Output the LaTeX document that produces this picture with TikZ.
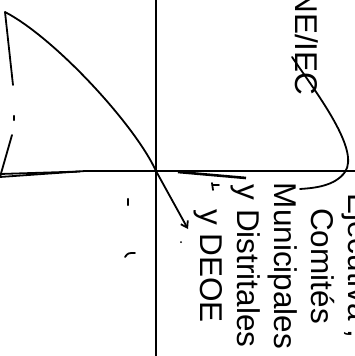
\documentclass[tikz,border=0pt]{standalone}
\usepackage{fontspec}
\setmainfont{Liberation Sans}
\usetikzlibrary{arrows.meta}
\tikzset{
  axisline/.style={draw=black,line width=1.7pt},
  penline/.style={draw=black,line width=1.8pt,line cap=round,line join=round},
  speck/.style={draw=black,line width=2.2pt,line cap=round},
  sidelabel/.style={rotate=-90,align=center,inner sep=0pt,font=\fontsize{31.5}{37}\selectfont},
  penarrow/.style={penline,-{Straight Barb[length=6pt,width=8pt]}},
}
\begin{document}
\begin{tikzpicture}[x=1pt,y=-1pt]
    \useasboundingbox (0,0) rectangle (355,356);
    \clip (0,0) rectangle (355,356);
    \node[sidelabel] (bodies) at (283,266) {Ejecutiva ,\\Comités\\Municipales\\y Distritales\\y DEOE};
    \node[sidelabel] (ne) at (307,43) {NE/IEC};
    \coordinate (cross) at (156,171);
    \coordinate (tip) at (5,12);
    \coordinate (foot) at (0,177);
    \coordinate (neend) at (300,189);
    % axes
    \draw[axisline] (156,0) -- (156,356);
    \draw[axisline] (85,171) -- (355,171);
    % loop on the left
    \draw[penline] (cross) .. controls (135,125) and (55,38) .. (tip) -- (13,85);
    \draw[penline] (12,135) -- (foot) -- (85,171) -- (cross);
    \draw[penline] (0,174) -- (80,171.5);
    \draw[line width=2.6pt] (178,172) -- (246,178);
    \draw[penarrow] (cross) -- (188,229);
    % link from NE/IEC
    \draw[penline] (292,57) .. controls (318,95) and (360,150) .. (345,172) .. controls (335,186) and (315,188) .. (neend);
    % specks
    \draw[speck] (14,116) -- (14,120);
    \draw[speck] (128,199) -- (128,205);
    \draw[penline] (125,257) .. controls (128,253) .. (135,253);
    \draw[penline] (212,183) -- (213,190) (213,185) -- (219,185);
    \fill (181,242) circle (1);
  \end{tikzpicture}
\end{document}
